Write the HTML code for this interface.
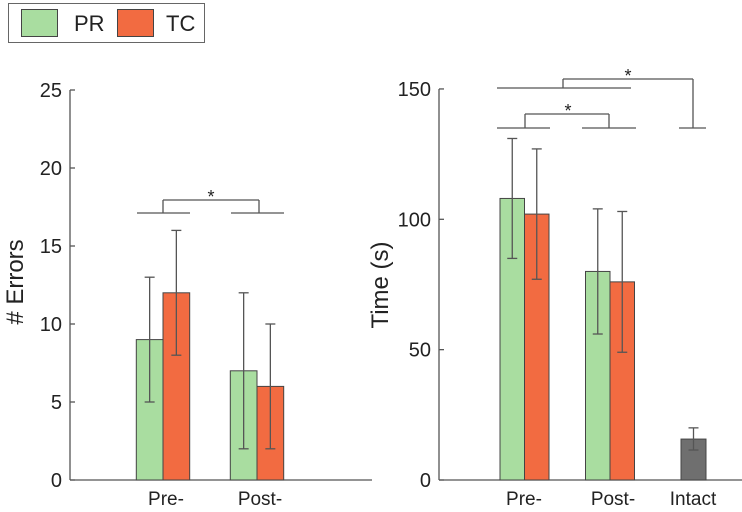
<!DOCTYPE html>
<html><head><meta charset="utf-8"><style>
body{margin:0;background:#fff;}
svg text{font-family:"Liberation Sans",sans-serif;fill:#222;}
</style></head><body>
<svg id="c" width="742" height="507" xmlns="http://www.w3.org/2000/svg">
<g>
<rect x="8.5" y="3.5" width="196" height="39" fill="#fff" stroke="#666"/>
<rect x="21.5" y="9.5" width="36" height="27" fill="#a9dda0" stroke="#444"/>
<text x="74" y="31" font-size="22">PR</text>
<rect x="117.5" y="9.5" width="36" height="27" fill="#f26b41" stroke="#444"/>
<text x="166" y="31" font-size="22">TC</text>
</g>
<g id="L"></g><g id="R"></g>
</svg>
<script>
const errCats=["Pre-","Post-"];
const errPR=[9,7], errPRlo=[5,2], errPRhi=[13,12];
const errTC=[12,6], errTClo=[8,2], errTChi=[16,10];
const errTicks=[0,5,10,15,20,25];
const timeCats=["Pre-","Post-","Intact"];
const timePR=[108,80], timePRlo=[85,56], timePRhi=[131,104];
const timeTC=[102,76], timeTClo=[77,49], timeTChi=[127,103];
const intact=[15.7], intactLo=[11.5], intactHi=[20];
const timeTicks=[0,50,100,150];
const NS="http://www.w3.org/2000/svg";
function mk(p,t,a,txt){const e=document.createElementNS(NS,t);for(const k in a)e.setAttribute(k,a[k]);if(txt!==undefined)e.textContent=txt;p.appendChild(e);return e;}
function ln(p,x1,y1,x2,y2,name){const e=mk(p,'line',{x1,y1,x2,y2,stroke:'#555','stroke-width':1.3});

return e;}
function bar(p,x,w,v,lo,hi,y,fill,name){
 const r=mk(p,'rect',{x:x,y:y(v),width:w,height:y(0)-y(v),fill:fill,stroke:'#444','stroke-width':1});
 
 
 const cx=x+w/2;
 ln(p,cx,y(lo),cx,y(hi),name+'-errorbar');
 ln(p,cx-5,y(lo),cx+5,y(lo),name+'-error-low');
 ln(p,cx-5,y(hi),cx+5,y(hi),name+'-error-high');
}
function star(p,x,yy,name){const t=mk(p,'text',{x:x,y:yy,'font-size':18,'text-anchor':'middle'},'*');

}
(function(){
 const g=document.getElementById('L');
 const y=v=>480-v*15.6;
 ln(g,70,90,70,480,'y-axis-errors');ln(g,70,480,372,480,'x-axis-errors');
 errTicks.forEach(t=>{ln(g,70,y(t),75,y(t),'y-tick');
  const e=mk(g,'text',{x:62,y:y(t)+7,'font-size':20,'text-anchor':'end'},t);
  
  });
 const centers=[163,257],w=26.7;
 errCats.forEach((c,i)=>{
  bar(g,centers[i]-w,w,errPR[i],errPRlo[i],errPRhi[i],y,'#a9dda0','bar-pr-'+i);
  bar(g,centers[i],w,errTC[i],errTClo[i],errTChi[i],y,'#f26b41','bar-tc-'+i);
  const t=mk(g,'text',{x:centers[i]+3,y:505,'font-size':19,'text-anchor':'middle'},c);
  
  
 });
 ln(g,137,213,190,213,'sig-line-pre');ln(g,231,213,284,213,'sig-line-post');
 ln(g,163,213,163,200,'sig-bracket');ln(g,163,200,259,200,'sig-bracket');ln(g,259,200,259,213,'sig-bracket');
 star(g,211,203,'sig-star');
 const yl=mk(g,'text',{x:0,y:0,'font-size':24,'text-anchor':'middle',transform:'translate(23,282) rotate(-90)'},'# Errors');
 
 
})();
(function(){
 const g=document.getElementById('R');
 const y=v=>480-v*2.607;
 ln(g,439,89,439,480,'y-axis-time');ln(g,439,480,742,480,'x-axis-time');
 timeTicks.forEach(t=>{ln(g,439,y(t),444,y(t),'y-tick');
  const e=mk(g,'text',{x:431,y:y(t)+7,'font-size':20,'text-anchor':'end'},t);
  
  });
 const centers=[524.5,610],w=24.5;
 [0,1].forEach(i=>{
  bar(g,centers[i]-w,w,timePR[i],timePRlo[i],timePRhi[i],y,'#a9dda0','bar-time-pr-'+i);
  bar(g,centers[i],w,timeTC[i],timeTClo[i],timeTChi[i],y,'#f26b41','bar-time-tc-'+i);
 });
 bar(g,681,25,intact[0],intactLo[0],intactHi[0],y,'#6f6f6f','bar-intact');
 const xs=[524,613,693];
 timeCats.forEach((c,i)=>{const t=mk(g,'text',{x:xs[i],y:505,'font-size':19,'text-anchor':'middle'},c);
  
  });
 ln(g,497,128,550,128,'sig-line-pre');ln(g,582,128,636,128,'sig-line-post');ln(g,679,128,706,128,'sig-line-intact');
 ln(g,525,128,525,114,'sig-bracket');ln(g,525,114,609,114,'sig-bracket');ln(g,609,114,609,128,'sig-bracket');
 star(g,568,117,'sig-star-1');
 ln(g,497,88,631,88,'sig-line-lesion');ln(g,563,88,563,79,'sig-bracket');ln(g,563,79,693,79,'sig-bracket');ln(g,693,79,693,128,'sig-bracket');
 star(g,628,82,'sig-star-2');
 const yl=mk(g,'text',{x:0,y:0,'font-size':24,'text-anchor':'middle',transform:'translate(388,285) rotate(-90)'},'Time (s)');
 
 
})();
</script>
</body></html>
